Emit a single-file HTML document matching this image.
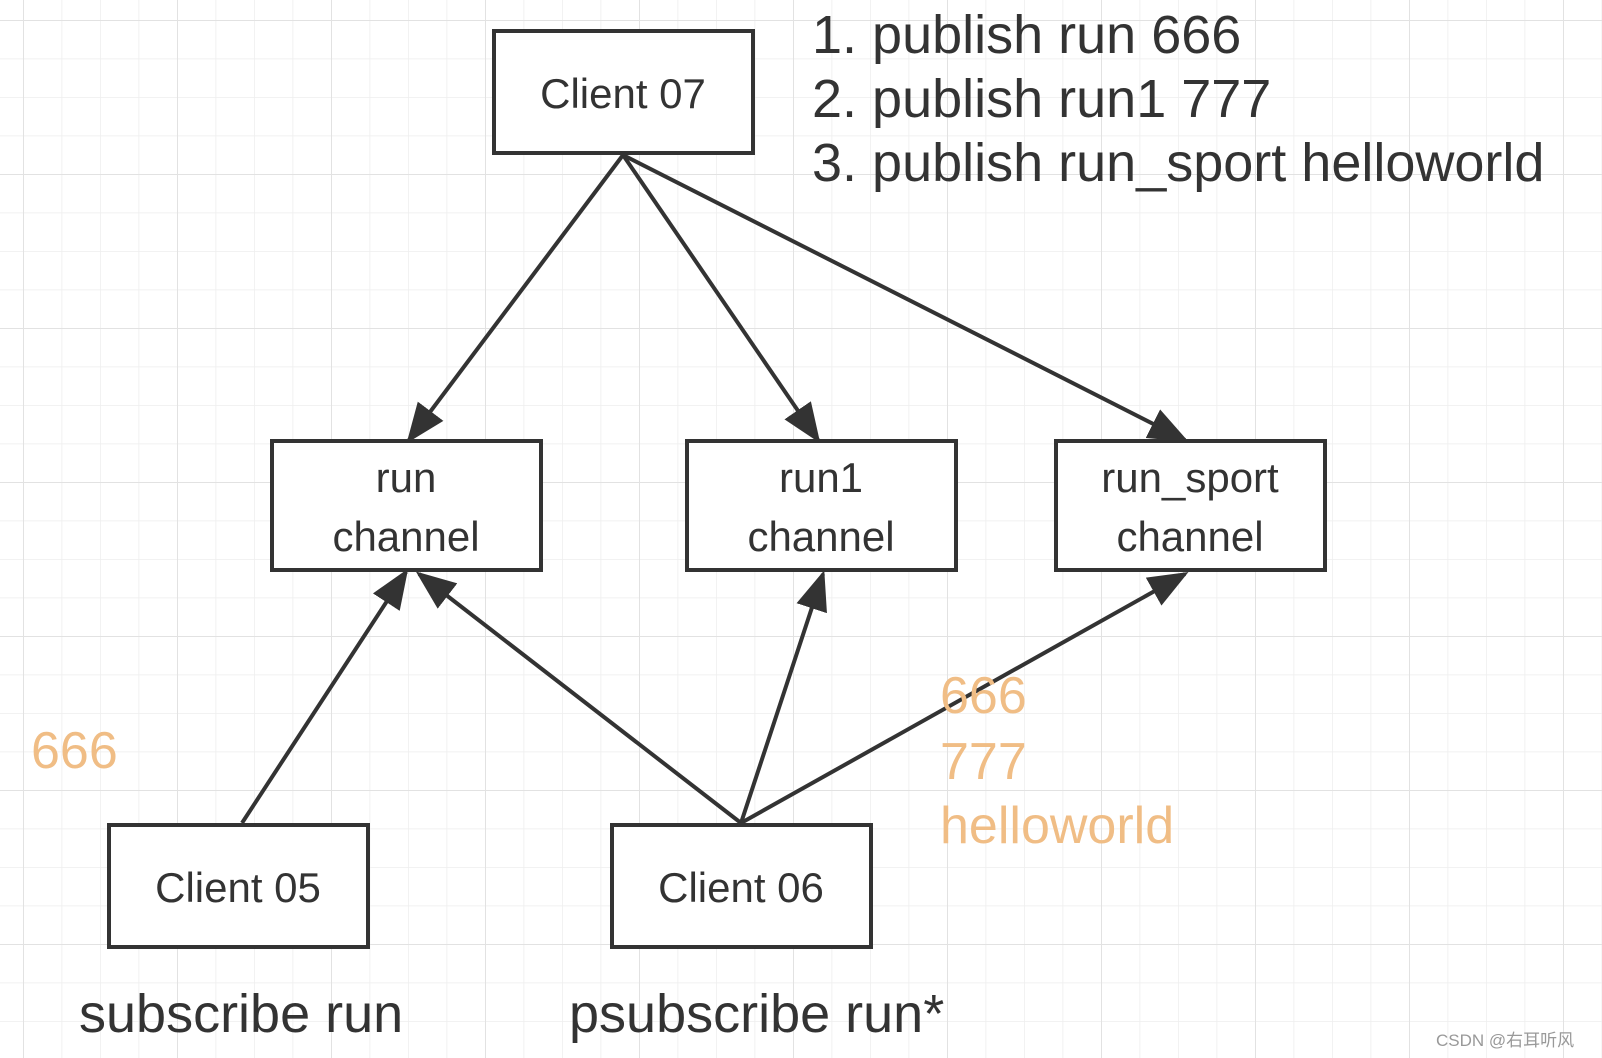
<!DOCTYPE html>
<html><head><meta charset="utf-8"><style>
html,body{margin:0;padding:0;background:#fff;}
svg{display:block}
text{font-family:"Liberation Sans",Arial,sans-serif;}
</style></head><body>
<svg width="1602" height="1058" viewBox="0 0 1602 1058" xmlns="http://www.w3.org/2000/svg">
<defs>
<pattern id="g" x="23" y="20" width="38.5" height="38.5" patternUnits="userSpaceOnUse">
<path d="M0 0H38.5M0 0V38.5" stroke="#eeeeee" stroke-width="1.5" fill="none"/>
</pattern>
<pattern id="G" x="23" y="20" width="154" height="154" patternUnits="userSpaceOnUse">
<path d="M0 0H154M0 0V154" stroke="#e2e2e2" stroke-width="2" fill="none"/>
</pattern>
<marker id="a" markerWidth="10" markerHeight="8" refX="9" refY="4" orient="auto" markerUnits="strokeWidth">
<path d="M0 0L10 4L0 8z" fill="#333"/>
</marker>
</defs>
<rect width="1602" height="1058" fill="url(#g)"/>
<rect width="1602" height="1058" fill="url(#G)"/>
<g stroke="#333" stroke-width="4" fill="none" marker-end="url(#a)">
<line x1="623" y1="155" x2="409" y2="440"/>
<line x1="623" y1="155" x2="818" y2="440"/>
<line x1="623" y1="155" x2="1185" y2="440"/>
<line x1="242" y1="823" x2="406" y2="572"/>
<line x1="741" y1="823" x2="419" y2="574"/>
<line x1="741" y1="823" x2="823" y2="574"/>
<line x1="741" y1="823" x2="1185" y2="574"/>
</g>
<g stroke="#333" stroke-width="4" fill="#fff">
<rect x="494" y="31" width="259" height="122"/>
<rect x="272" y="441" width="269" height="129"/>
<rect x="687" y="441" width="269" height="129"/>
<rect x="1056" y="441" width="269" height="129"/>
<rect x="109" y="825" width="259" height="122"/>
<rect x="612" y="825" width="259" height="122"/>
</g>
<g fill="#333" font-size="42" text-anchor="middle">
<text x="623" y="108">Client 07</text>
<text x="406" y="492">run</text><text x="406" y="551">channel</text>
<text x="821" y="492">run1</text><text x="821" y="551">channel</text>
<text x="1190" y="492">run_sport</text><text x="1190" y="551">channel</text>
<text x="238" y="902">Client 05</text>
<text x="741" y="902">Client 06</text>
</g>
<g fill="#333" font-size="54">
<text x="812" y="53">1. publish run 666</text>
<text x="812" y="117">2. publish run1 777</text>
<text x="812" y="181">3. publish run_sport helloworld</text>
<text x="79" y="1032">subscribe run</text>
<text x="569" y="1032">psubscribe run*</text>
</g>
<g fill="#f0bd85" font-size="52">
<text x="31" y="768">666</text>
<text x="940" y="713">666</text>
<text x="940" y="779">777</text>
<text x="940" y="843">helloworld</text>
</g>
<text x="1436" y="1046" font-size="17" fill="#999" font-family="'Liberation Sans','Noto Sans CJK SC',sans-serif">CSDN @右耳听风</text>
</svg>
</body></html>
